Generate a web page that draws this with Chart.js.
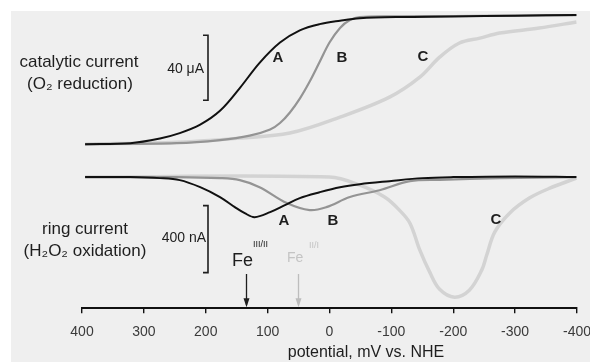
<!DOCTYPE html>
<html>
<head>
<meta charset="utf-8">
<script src="https://cdn.jsdelivr.net/npm/chart.js@4/dist/chart.umd.min.js"></script>
<style>
  html, body { margin: 0; padding: 0; background: #fff; }
  #wrap { width: 590px; height: 362px; }
</style>
</head>
<body>
<div id="wrap"><canvas id="rrde" width="590" height="362"></canvas></div>
<script>
// potential axis (mV vs NHE), drawn from +400 to -400
const xTicks = [400, 300, 200, 100, 0, -100, -200, -300, -400];

// catalytic current (O2 reduction), microamps above baseline
const catA_mV = [395, 322, 274, 242, 209, 177, 145, 113, 80, 48, 16, -17, -49, -113, -200, -300, -399];
const catA_uA = [0, 0.6, 3.5, 6.8, 12.0, 20.5, 34.5, 50.0, 62.5, 70.0, 73.8, 75.9, 77.4, 78.2, 78.5, 79, 79.4];
const catB_mV = [395, 247, 177, 129, 96, 80, 64, 48, 32, 16, 0, -17, -33, -49, -113, -200, -300, -399];
const catB_uA = [0, 0.6, 2.5, 5.2, 9.0, 13.0, 19.5, 28.0, 38.5, 50.5, 62.5, 71.5, 76.3, 78.2, 78.6, 78.8, 79.1, 79.4];
const catC_mV = [395, 247, 145, 64, -17, -97, -146, -178, -210, -243, -275, -339, -399];
const catC_uA = [0, 1.2, 3.7, 6.8, 16.6, 28.9, 41.2, 53.5, 62.2, 65.2, 68.3, 71.4, 75.1];

// ring current (H2O2 oxidation), nanoamps (drawn downward)
const ringA_mV = [395, 322, 274, 242, 209, 177, 153, 137, 121, 96, 72, 48, 16, -17, -49, -97, -150, -200, -300, -399];
const ringA_nA = [0, 0, -6, -18, -60, -119, -179, -215, -239, -209, -167, -125, -90, -60, -42, -24, -6, 0, 4, 0];
const ringB_mV = [395, 247, 177, 145, 113, 69, 32, 5, -33, -81, -130, -178, -275, -399];
const ringB_nA = [0, 0, -6, -18, -60, -155, -197, -179, -119, -78, -24, -16, -6, 0];
const ringC_mV = [395, 0, -49, -89, -113, -130, -146, -162, -178, -202, -226, -246, -254, -267, -291, -323, -356, -399];
const ringC_nA = [0, 0, -48, -119, -197, -275, -436, -567, -669, -716, -675, -555, -466, -328, -215, -125, -66, -6];

// Fe couples marked with arrows (mV)
const feMarks = [135, 51];

function pts(xs, ys) {
    return xs.map((x, i) => ({ x: x, y: ys[i] }));
}

function line(label, xs, ys, axis, color, width) {
    return {
        label: label,
        data: pts(xs, ys),
        yAxisID: axis,
        borderColor: color,
        borderWidth: width,
        pointRadius: 0,
        fill: false,
        tension: 0.35
    };
}

const paperBg = {
    id: 'paperBg',
    beforeDraw(chart) {
        const c = chart.ctx;
        c.save();
        c.fillStyle = '#ffffff';
        c.fillRect(0, 0, chart.width, chart.height);
        c.fillStyle = '#efefef';
        c.fillRect(11, 11, chart.width - 11, chart.height - 11);
        c.restore();
    }
};

const notes = {
    id: 'notes',
    afterDatasetsDraw(chart) {
        const c = chart.ctx;
        const x = chart.scales.x;
        const yc = chart.scales.yCat;
        const yr = chart.scales.yRing;
        c.save();
        c.fillStyle = '#1e1e1e';
        c.textBaseline = 'middle';
        c.textAlign = 'center';

        // left side labels
        c.font = '17px "Liberation Sans", Arial, sans-serif';
        c.fillText('catalytic current', 79, 62);
        c.fillText('(O\u2082 reduction)', 80, 84);
        c.fillText('ring current', 85, 229);
        c.fillText('(H\u2082O\u2082 oxidation)', 85, 251);

        // scale bars
        c.font = '14px "Liberation Sans", Arial, sans-serif';
        c.textAlign = 'right';
        c.fillText('40 \u03bcA', 204, 69);
        c.fillText('400 nA', 206, 238);
        c.strokeStyle = '#1e1e1e';
        c.lineWidth = 1.6;
        const bx = 208;
        const bars = [[yc.getPixelForValue(67), yc.getPixelForValue(27)],
                      [yr.getPixelForValue(-170), yr.getPixelForValue(-570)]];
        bars.forEach(b => {
            c.beginPath();
            c.moveTo(bx - 5, b[0]);
            c.lineTo(bx, b[0]);
            c.lineTo(bx, b[1]);
            c.lineTo(bx - 5, b[1]);
            c.stroke();
        });

        // curve letters
        c.font = 'bold 15px "Liberation Sans", Arial, sans-serif';
        c.textAlign = 'center';
        c.fillText('A', 278, 58);
        c.fillText('B', 342, 58);
        c.fillText('C', 423, 57);
        c.fillText('A', 284, 221);
        c.fillText('B', 333, 221);
        c.fillText('C', 496, 220);

        // Fe couple arrows
        const top = chart.chartArea.bottom;
        const colors = ['#1e1e1e', '#bdbdbd'];
        feMarks.forEach((mv, i) => {
            const px = Math.round(x.getPixelForValue(mv)) + 0.5;
            c.strokeStyle = colors[i];
            c.fillStyle = colors[i];
            c.lineWidth = 1.3;
            c.beginPath();
            c.moveTo(px, 274);
            c.lineTo(px, top - 3);
            c.stroke();
            c.beginPath();
            c.moveTo(px - 3, top - 10);
            c.lineTo(px + 3, top - 10);
            c.lineTo(px, top - 1);
            c.closePath();
            c.fill();
        });

        c.textAlign = 'left';
        c.fillStyle = '#1e1e1e';
        c.font = '18px "Liberation Sans", Arial, sans-serif';
        c.fillText('Fe', 232, 261);
        c.font = '9px "Liberation Sans", Arial, sans-serif';
        c.fillText('III/II', 253, 245);
        c.fillStyle = '#c4c4c4';
        c.font = '14px "Liberation Sans", Arial, sans-serif';
        c.fillText('Fe', 287, 258);
        c.font = '9px "Liberation Sans", Arial, sans-serif';
        c.fillText('II/I', 309, 246);

        // axis title
        c.fillStyle = '#1e1e1e';
        c.textAlign = 'center';
        c.font = '16px "Liberation Sans", Arial, sans-serif';
        c.fillText('potential, mV vs. NHE', 366, 353);
        c.restore();
    }
};

new Chart(document.getElementById('rrde'), {
    type: 'line',
    data: {
        datasets: [
            line('A catalytic', catA_mV, catA_uA, 'yCat', '#111111', 2),
            line('B catalytic', catB_mV, catB_uA, 'yCat', '#949494', 2.2),
            line('C catalytic', catC_mV, catC_uA, 'yCat', '#d3d3d3', 3.5),
            line('A ring', ringA_mV, ringA_nA, 'yRing', '#111111', 2),
            line('B ring', ringB_mV, ringB_nA, 'yRing', '#949494', 2.2),
            line('C ring', ringC_mV, ringC_nA, 'yRing', '#d3d3d3', 3.5)
        ]
    },
    options: {
        responsive: false,
        animation: false,
        events: [],
        layout: { padding: { left: 82, right: 13, top: 10, bottom: 10 } },
        plugins: {
            legend: { display: false },
            tooltip: { enabled: false }
        },
        scales: {
            x: {
                type: 'linear',
                reverse: true,
                min: -400,
                max: 400,
                afterBuildTicks: (scale) => {
                    scale.ticks = xTicks.map(v => ({ value: v }));
                },
                afterFit: (scale) => {
                    scale.paddingLeft = 0;
                    scale.paddingRight = 0;
                },
                border: { display: true, color: '#111', width: 2 },
                grid: { display: true, drawOnChartArea: false, drawTicks: true, tickLength: 5, color: '#111', lineWidth: 1.4 },
                ticks: {
                    color: '#3a3a3a',
                    padding: 11,
                    maxRotation: 0,
                    autoSkip: false,
                    font: { family: '"Liberation Sans", Arial, sans-serif', size: 14 }
                }
            },
            yCat: {
                type: 'linear',
                display: false,
                min: -100.9,
                max: 82.5
            },
            yRing: {
                type: 'linear',
                display: false,
                min: -782,
                max: 997
            }
        }
    },
    plugins: [paperBg, notes]
});
</script>
</body>
</html>
